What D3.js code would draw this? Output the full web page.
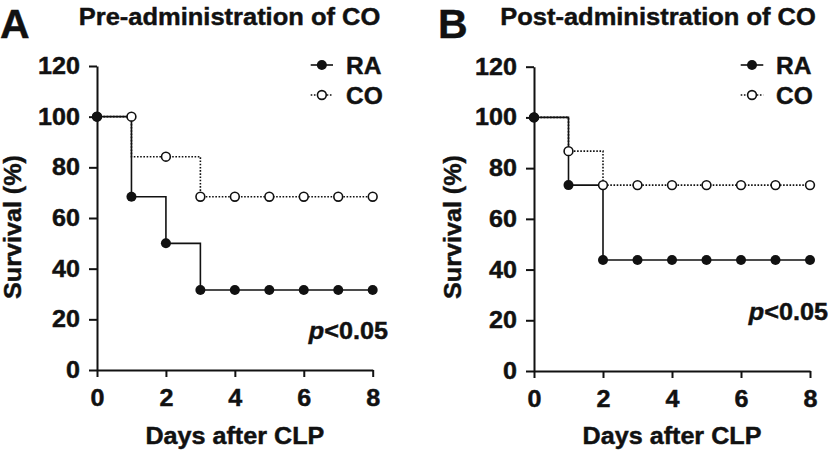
<!DOCTYPE html>
<html><head><meta charset="utf-8">
<script src="https://cdn.jsdelivr.net/npm/d3@7"></script>
<style>body{margin:0;background:#fff}svg{display:block}text{font-family:"Liberation Sans",Arial,Helvetica,sans-serif;font-weight:bold;fill:#111;stroke:#111;stroke-width:0.45px}</style>
</head><body><svg id="c" width="829" height="451"></svg>
<script>
// ---------- data ----------
const days = [0, 1, 2, 3, 4, 5, 6, 7, 8];
const xTickValues = [0, 2, 4, 6, 8];
const yTickValues = [0, 20, 40, 60, 80, 100, 120];
const seriesNames = ["RA", "CO"];
const panelLetters = ["A", "B"];
const panelTitles = ["Pre-administration of CO", "Post-administration of CO"];
const xAxisTitle = "Days after CLP";
const yAxisTitle = "Survival (%)";
const pValueParts = ["p", "<0.05"];

// Panel A: survival (%) shown at each day
const raA = [100, 68.4, 50.0, 31.6, 31.6, 31.6, 31.6, 31.6, 31.6];
const coA = [100, 100, 84.2, 68.4, 68.4, 68.4, 68.4, 68.4, 68.4];
// Panel A: Kaplan-Meier step events
const raStepDaysA = [0, 1, 2, 3, 8];
const raStepA = [100, 68.4, 50.0, 31.6, 31.6];
const coStepDaysA = [0, 1, 3, 8];
const coStepA = [100, 84.2, 68.4, 68.4];

// Panel B: survival (%) shown at each day
const raB = [100, 73.3, 43.8, 43.8, 43.8, 43.8, 43.8, 43.8, 43.8];
const coB = [100, 86.7, 73.3, 73.3, 73.3, 73.3, 73.3, 73.3, 73.3];
// Panel B: Kaplan-Meier step events
const raStepDaysB = [0, 1, 2, 8];
const raStepB = [100, 73.3, 43.8, 43.8];
const coStepDaysB = [0, 1, 2, 8];
const coStepB = [100, 86.7, 73.3, 73.3];

// ---------- layout ----------
const panels = [
  {letter: panelLetters[0], title: panelTitles[0], ra: raA, co: coA,
   raStep: raStepDaysA.map((d, i) => ({day: d, v: raStepA[i]})),
   coStep: coStepDaysA.map((d, i) => ({day: d, v: coStepA[i]})),
   xr: [97, 372.7], yr: [370, 66], letterX: 0, titleX: 229.5,
   legLine: [310.7, 333], legText: 346, pX: 388, pY: 339, yTitleX: 21},
  {letter: panelLetters[1], title: panelTitles[1], ra: raB, co: coB,
   raStep: raStepDaysB.map((d, i) => ({day: d, v: raStepB[i]})),
   coStep: coStepDaysB.map((d, i) => ({day: d, v: coStepB[i]})),
   xr: [534, 810], yr: [371, 66.7], letterX: 438, titleX: 658,
   legLine: [740.7, 763.3], legText: 776, pX: 828, pY: 320, yTitleX: 461}
];

const SX = 1.07; // horizontal stretch of the lettering
const svg = d3.select("#c");

function stext(parent, x, y, str, size, sx, anchor, rot) {
  const g = parent.append("g")
    .attr("transform", `translate(${x},${y})` + (rot ? ` rotate(${rot})` : "") + ` scale(${sx},1)`);
  return g.append("text").attr("text-anchor", anchor).style("font-size", size + "px").text(str);
}

panels.forEach(p => {
  const g = svg.append("g");
  const x = d3.scaleLinear().domain([0, 8]).range(p.xr);
  const y = d3.scaleLinear().domain([0, 120]).range(p.yr);

  // panel letter & title
  stext(g, p.letterX, 38, p.letter, 41, 1.0, "start");
  stext(g, p.titleX, 25, p.title, 24.5, 1.04, "middle");

  // axes
  const ya = g.append("g").attr("transform", `translate(${p.xr[0]},0)`)
    .call(d3.axisLeft(y).tickValues(yTickValues).tickSize(8).tickSizeOuter(0).tickPadding(9));
  const xa = g.append("g").attr("transform", `translate(0,${p.yr[0]})`)
    .call(d3.axisBottom(x).tickValues(xTickValues).tickSize(7).tickSizeOuter(0).tickPadding(12));
  [ya, xa].forEach(a => {
    a.select(".domain").attr("stroke", "#111").attr("stroke-width", 2);
    a.selectAll(".tick line").attr("stroke", "#111").attr("stroke-width", 2);
    a.selectAll(".tick text").attr("fill", "#111").style("font-size", "23.5px")
      .style("font-family", '"Liberation Sans",Arial,sans-serif').style("font-weight", "bold");
  });
  ya.selectAll(".tick text").attr("x", -17 / SX).attr("transform", `scale(${SX},1)`);
  xa.selectAll(".tick text").attr("transform", `scale(${SX},1)`);

  // axis titles
  stext(g, (p.xr[0] + p.xr[1]) / 2, 444, xAxisTitle, 23.5, SX, "middle");
  stext(g, p.yTitleX, 227, yAxisTitle, 23.5, SX, "middle", -90);

  // step lines
  const line = d3.line().x(d => x(d.day)).y(d => y(d.v)).curve(d3.curveStepAfter);
  g.append("path").datum(p.coStep).attr("d", line).attr("fill", "none")
    .attr("stroke", "#111").attr("stroke-width", 1.6).attr("stroke-dasharray", "1.6,1.6");
  g.append("path").datum(p.raStep).attr("d", line).attr("fill", "none")
    .attr("stroke", "#111").attr("stroke-width", 1.6);

  // markers
  g.selectAll(".co").data(days).join("circle").attr("class", "co")
    .attr("cx", d => x(d)).attr("cy", (d, i) => y(p.co[i])).attr("r", 4.4)
    .attr("fill", "#fff").attr("stroke", "#111").attr("stroke-width", 1.6);
  g.selectAll(".ra").data(days).join("circle").attr("class", "ra")
    .attr("cx", d => x(d)).attr("cy", (d, i) => y(p.ra[i])).attr("r", 5)
    .attr("fill", "#111");

  // legend
  const rows = [65, 95];
  seriesNames.forEach((name, i) => {
    const ly = rows[i];
    const mx = (p.legLine[0] + p.legLine[1]) / 2;
    g.append("line").attr("x1", p.legLine[0]).attr("x2", p.legLine[1]).attr("y1", ly).attr("y2", ly)
      .attr("stroke", "#111").attr("stroke-width", 1.6)
      .attr("stroke-dasharray", i === 1 ? "1.6,1.6" : null);
    if (i === 0) g.append("circle").attr("cx", mx).attr("cy", ly).attr("r", 5).attr("fill", "#111");
    else g.append("circle").attr("cx", mx).attr("cy", ly).attr("r", 4.4).attr("fill", "#fff")
      .attr("stroke", "#111").attr("stroke-width", 1.6);
    stext(g, p.legText, ly + 8.6, name, 24.5, 1.0, "start");
  });

  // p value
  const pt = stext(g, p.pX, p.pY, "", 24, 1.05, "end");
  pt.append("tspan").style("font-style", "italic").text(pValueParts[0]);
  pt.append("tspan").text(pValueParts[1]);
});
</script></body></html>
